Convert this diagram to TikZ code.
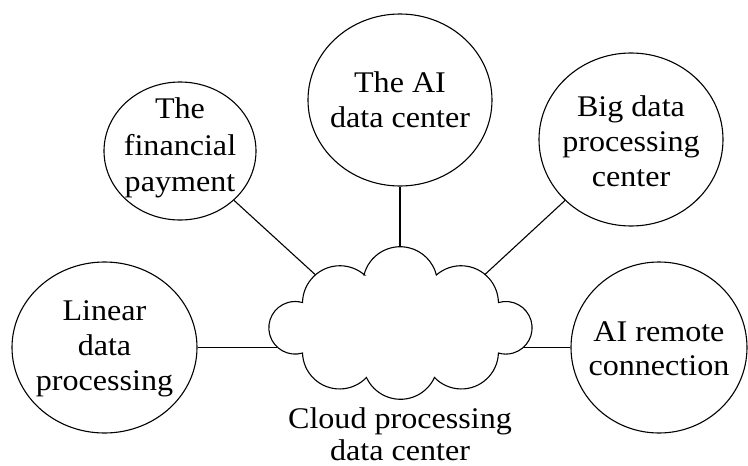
\documentclass[tikz,border=0pt]{standalone}
\usepackage{fontspec}
\setmainfont{Liberation Serif}[FakeStretch=1.07]
\usetikzlibrary{shapes.geometric}
\begin{document}
\begin{tikzpicture}[x=1pt,y=-1pt,
  bub/.style={ellipse,draw,line width=1.1pt,inner sep=0pt},
  txt/.style={align=center,inner sep=0pt,font=\fontsize{30}{35}\selectfont},
  link/.style={line width=1.1pt}]
\useasboundingbox (0,0) rectangle (748,466);
% bubbles
\node[bub,minimum width=152pt,minimum height=138pt] (fin) at (180,151) {};
\node[bub,minimum width=184pt,minimum height=172pt] (ai) at (400,100) {};
\node[bub,minimum width=184pt,minimum height=173pt] (big) at (631,139.5) {};
\node[bub,minimum width=185pt,minimum height=171pt] (lin) at (104.5,347.5) {};
\node[bub,minimum width=176pt,minimum height=171pt] (rem) at (659,347.5) {};
\node[txt,font=\fontsize{30}{36.5}\selectfont] (fint) at (180,148) {The\\financial\\payment};
\node[txt] (ait) at (400,99.5) {The AI\\data center};
\node[txt] (bigt) at (631,141) {Big data\\processing\\center};
\node[txt] (lint) at (104.5,348.5) {Linear\\data\\processing};
\node[txt,font=\fontsize{30}{34}\selectfont] (remt) at (659,349) {AI remote\\connection};
% cloud
\draw[line width=1.1pt,fill=white] (364,275)
  arc[start angle=194,end angle=346,radius=37.3]
  arc[start angle=228.8,end angle=359.1,radius=37.4]
  arc[start angle=253.7,end angle=466.3,radius=26.3]
  arc[start angle=1.8,end angle=136.4,radius=37.1]
  arc[start angle=24.6,end angle=155.4,radius=37.4]
  arc[start angle=43.6,end angle=178.2,radius=37.1]
  arc[start angle=73.7,end angle=286.3,radius=26.3]
  arc[start angle=180.9,end angle=311.2,radius=37.4]
  -- cycle;
\node[txt,font=\fontsize{30}{32}\selectfont] (cloudt) at (400,434.3) {Cloud processing\\data center};
% connection points on the cloud
\coordinate (cfin) at (315.2,274.6);
\coordinate (cai) at (400,246.7);
\coordinate (cbig) at (484.8,274.6);
\coordinate (clin) at (277.2,347.5);
\coordinate (crem) at (522.8,347.5);
\draw[link] (fin) -- (cfin);
\draw[link] (ai) -- (cai);
\draw[link] (big) -- (cbig);
\draw[link] (lin) -- (clin);
\draw[link] (rem) -- (crem);
\end{tikzpicture}
\end{document}
